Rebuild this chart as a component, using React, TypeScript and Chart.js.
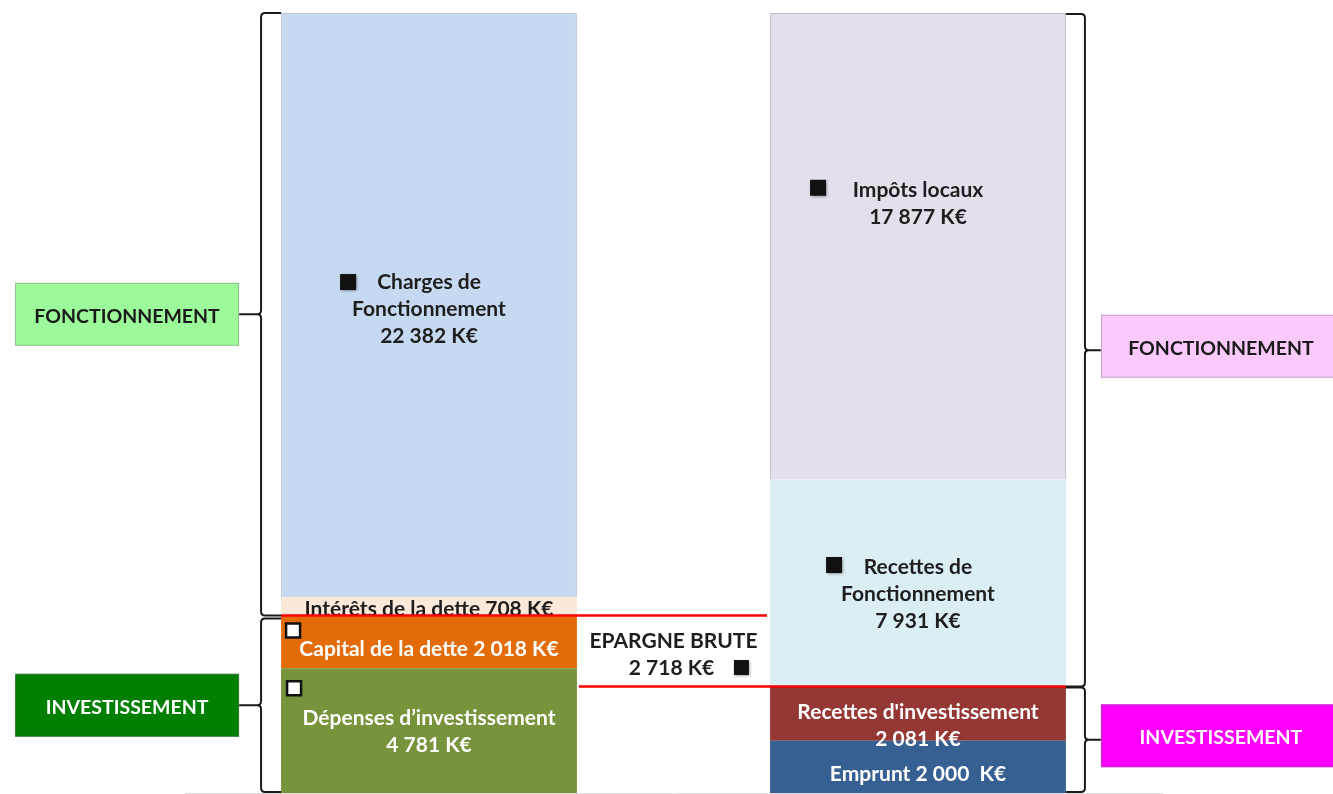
import React, { useEffect, useRef } from "react";
import { Chart, registerables } from "chart.js";
Chart.register(...registerables);

// ---- DATA (stacked from bottom to top) ----
const categories = ["Dépenses", "Recettes"];
const depensesValues = [4781, 2018, 708, 22382];
const recettesValues = [2000, 2081, 7931, 17877];
const depensesTemplates = [
  "Dépenses d’investissement|{v}",
  "Capital de la dette {v}",
  "Intérêts de la dette {v}",
  "Charges de|Fonctionnement|{v}",
];
const recettesTemplates = [
  "Emprunt {v}  K€",
  "Recettes d'investissement|{v}",
  "Recettes de|Fonctionnement|{v}",
  "Impôts locaux|{v}",
];
const unit = " K€";
const groupLabels = ["FONCTIONNEMENT", "INVESTISSEMENT"];
const epargneLabel = "EPARGNE BRUTE";

// ---- STYLES ----
const depColors = ["#77933c", "#e36c09", "#fde9d9", "#c6d9f0"];
const recColors = ["#376092", "#953735", "#dbeef3", "#e5dfec"];
const depTextColors = ["#ffffff", "#ffffff", "#1e1e1e", "#1e1e1e"];
const recTextColors = ["#ffffff", "#ffffff", "#1e1e1e", "#1e1e1e"];
const depLabelDy = [1, 7, 3, 4];
const recLabelDy = [7, 12, 11, -43];
const FONT = "bold 21px Lato, 'Open Sans', sans-serif";
const BOX_FONT = "bold 19.5px Lato, 'Open Sans', sans-serif";
const LINE_H = 27;

const fmt = (v: number) => String(v).replace(/\B(?=(\d{3})+(?!\d))/g, " ");
const buildLines = (tpl: string, v: number) => {
  const hasUnit = tpl.includes("K€");
  const s = tpl.replace("{v}", fmt(v) + (hasUnit ? "" : unit));
  return s.split("|");
};

function square(ctx: CanvasRenderingContext2D, x: number, y: number, s: number, white: boolean) {
  ctx.save();
  if (white) {
    ctx.fillStyle = "#ffffff";
    ctx.strokeStyle = "#111111";
    ctx.lineWidth = 2.5;
    ctx.beginPath();
    ctx.rect(x, y, s, s);
    ctx.fill();
    ctx.stroke();
  } else {
    ctx.shadowColor = "rgba(0,0,0,0.45)";
    ctx.shadowBlur = 3;
    ctx.shadowOffsetX = 1;
    ctx.shadowOffsetY = 1;
    ctx.fillStyle = "#111111";
    ctx.fillRect(x, y, s, s);
  }
  ctx.restore();
}

function brace(ctx: CanvasRenderingContext2D, x: number, y1: number, y2: number, s: number, endLen: number, nubLen: number) {
  const r = 4;
  const ym = (y1 + y2) / 2;
  const e = -s;
  ctx.beginPath();
  ctx.moveTo(x + e * endLen, y1);
  ctx.lineTo(x + e * r, y1);
  ctx.quadraticCurveTo(x, y1, x, y1 + r);
  ctx.lineTo(x, ym - r);
  ctx.quadraticCurveTo(x, ym, x + s * r, ym);
  ctx.lineTo(x + s * nubLen, ym);
  ctx.moveTo(x + s * r, ym);
  ctx.quadraticCurveTo(x, ym, x, ym + r);
  ctx.lineTo(x, y2 - r);
  ctx.quadraticCurveTo(x, y2, x + e * r, y2);
  ctx.lineTo(x + e * endLen, y2);
  ctx.stroke();
  return ym;
}

function box(ctx: CanvasRenderingContext2D, x: number, yc: number, w: number, h: number, fill: string, text: string, color: string) {
  ctx.save();
  ctx.fillStyle = fill;
  ctx.fillRect(x, yc - h / 2, w, h);
  ctx.strokeStyle = "rgba(120,120,120,0.45)";
  ctx.lineWidth = 1;
  ctx.strokeRect(x + 0.5, yc - h / 2 + 0.5, w - 1, h - 1);
  ctx.fillStyle = color;
  ctx.font = BOX_FONT;
  ctx.textAlign = "center";
  ctx.textBaseline = "middle";
  ctx.fillText(text, x + w / 2, yc + 2);
  ctx.restore();
}

const overlay = {
  id: "overlay",
  beforeDatasetsDraw(chart: any) {
    const { ctx, chartArea } = chart;
    ctx.save();
    ctx.strokeStyle = "#dcdcdc";
    ctx.lineWidth = 1;
    ctx.beginPath();
    ctx.moveTo(chartArea.left, chartArea.bottom + 0.5);
    ctx.lineTo(chartArea.right, chartArea.bottom + 0.5);
    ctx.stroke();
    ctx.restore();
  },
  afterDatasetsDraw(chart: any) {
    const { ctx } = chart;
    const ys = chart.scales.y;
    const bars: any[][] = [0, 1, 2, 3].map((i) => chart.getDatasetMeta(i).data.map((el: any) => el.getProps(["x", "y", "base", "width"], true)));
    const barLeft = (j: number) => bars[0][j].x - bars[0][j].width / 2;
    const barRight = (j: number) => bars[0][j].x + bars[0][j].width / 2;

    ctx.save();
    ctx.font = FONT;
    ctx.textAlign = "center";
    ctx.textBaseline = "middle";
    const firstLine: { x: number; y: number }[][] = [[], []];
    for (let j = 0; j < 2; j++) {
      const vals = j === 0 ? depensesValues : recettesValues;
      const tpls = j === 0 ? depensesTemplates : recettesTemplates;
      const cols = j === 0 ? depTextColors : recTextColors;
      const dys = j === 0 ? depLabelDy : recLabelDy;
      for (let i = 0; i < 4; i++) {
        const b = bars[i][j];
        const lines = buildLines(tpls[i], vals[i]);
        const cy = (b.y + b.base) / 2 + dys[i];
        ctx.fillStyle = cols[i];
        lines.forEach((ln, k) => {
          ctx.fillText(ln, b.x, cy + (k - (lines.length - 1) / 2) * LINE_H);
        });
        firstLine[j][i] = { x: b.x, y: cy - ((lines.length - 1) / 2) * LINE_H };
      }
    }

    // epargne brute
    const depFonct = depensesValues[2] + depensesValues[3];
    const recFonct = recettesValues[2] + recettesValues[3];
    const epargne = recFonct - depFonct;
    const yDepInvTop = ys.getPixelForValue(depensesValues[0] + depensesValues[1]);
    const yRecInvTop = ys.getPixelForValue(recettesValues[0] + recettesValues[1]);
    const gapX = (barRight(0) + barLeft(1)) / 2;
    const gapY = (yDepInvTop + yRecInvTop) / 2;
    ctx.fillStyle = "#1e1e1e";
    ctx.fillText(epargneLabel, gapX, gapY - 10);
    ctx.fillText(fmt(epargne) + unit, gapX - 2, gapY + 17);
    ctx.restore();

    // markers
    square(ctx, barLeft(0) + 59, firstLine[0][3].y - 8, 16, false);
    square(ctx, barLeft(1) + 40, firstLine[1][3].y - 10, 16, false);
    square(ctx, barLeft(1) + 56, firstLine[1][2].y - 10, 16, false);
    square(ctx, barLeft(0) + 5, bars[1][0].y + 8, 14, true);
    square(ctx, barLeft(0) + 6, bars[0][0].y + 13, 14, true);
    square(ctx, barRight(0) + 157, gapY + 9, 15, false);

    // red lines
    ctx.save();
    ctx.strokeStyle = "#ff0000";
    ctx.lineWidth = 2.5;
    ctx.beginPath();
    ctx.moveTo(barLeft(0), yDepInvTop);
    ctx.lineTo(barLeft(1) - 3, yDepInvTop);
    ctx.moveTo(barRight(0) + 2, yRecInvTop);
    ctx.lineTo(barRight(1), yRecInvTop);
    ctx.stroke();
    ctx.restore();

    // braces
    const yTop = ys.getPixelForValue(depensesValues.reduce((a, b) => a + b, 0));
    const yBot = ys.getPixelForValue(0) - 1;
    ctx.save();
    ctx.strokeStyle = "#1a1a1a";
    ctx.lineWidth = 2;
    const lx = barLeft(0) - 20;
    const lm1 = brace(ctx, lx, yTop, yDepInvTop, -1, 20, 22);
    const lm2 = brace(ctx, lx, yDepInvTop + 3, yBot, -1, 20, 22);
    const rx = barRight(1) + 19;
    const rm1 = brace(ctx, rx, yTop + 1, yRecInvTop, 1, 19, 16);
    const rm2 = brace(ctx, rx, yRecInvTop + 1, yBot, 1, 19, 16);
    ctx.restore();

    box(ctx, lx - 22 - 224, lm1, 224, 63, "#9cfa9a", groupLabels[0], "#1a1a1a");
    box(ctx, lx - 22 - 224, lm2, 224, 63, "#007f00", groupLabels[1], "#ffffff");
    box(ctx, rx + 16, rm1 - 4, 240, 63, "#fcc9fc", groupLabels[0], "#1a1a1a");
    box(ctx, rx + 16, rm2 - 4, 240, 63, "#ff00ff", groupLabels[1], "#ffffff");
  },
};

export default function App() {
  const ref = useRef<HTMLCanvasElement>(null);
  useEffect(() => {
    if (!ref.current) return;
    const datasets = [0, 1, 2, 3].map((i) => ({
      label: `s${i}`,
      data: [depensesValues[i], recettesValues[i]],
      backgroundColor: [depColors[i], recColors[i]],
      borderColor: i === 3 ? ["#b7c6dc", "#c3bdcc"] : "rgba(0,0,0,0)",
      borderWidth: i === 3 ? 1.5 : 0,
      borderSkipped: "bottom" as const,
      stack: "a",
      categoryPercentage: 0.605,
      barPercentage: 1,
    }));
    const chart = new Chart(ref.current, {
      type: "bar",
      data: { labels: categories, datasets },
      options: {
        animation: false,
        responsive: true,
        maintainAspectRatio: false,
        layout: { padding: { left: 184.5, right: 170.5, top: 13, bottom: 1 } },
        plugins: { legend: { display: false }, tooltip: { enabled: false } },
        scales: {
          x: { display: false, stacked: true },
          y: { display: false, stacked: true, min: 0, max: 29889 },
        },
      },
      plugins: [overlay],
    });
    return () => chart.destroy();
  }, []);
  return (
    <div style={{ position: "absolute", left: 0, top: 0, width: 1333, height: 794, background: "#ffffff" }}>
      <canvas ref={ref} />
    </div>
  );
}
